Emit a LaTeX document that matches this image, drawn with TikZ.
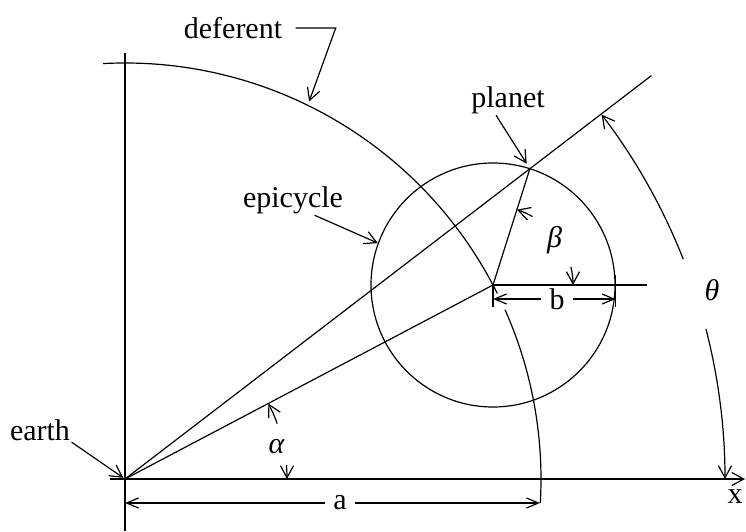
\documentclass[tikz,border=0pt]{standalone}
\usepackage{fontspec}
\setmainfont{Liberation Serif}
\usetikzlibrary{arrows.meta,calc}

\begin{document}
\begin{tikzpicture}[x=1pt, y=1pt, line width=1.2pt,
  lbl/.style={font=\fontsize{30}{34}\selectfont, inner sep=1pt},
  greek/.style={lbl, font=\fontsize{30}{34}\selectfont\itshape},
  dimlbl/.style={lbl, inner sep=8pt},
  tip/.style={-{Straight Barb[length=12pt,width=13pt]}},
  dim/.style={-{Straight Barb[length=12pt,width=10pt]}},
  epi/.style={draw, circle, minimum size=244pt, inner sep=0pt}
]
  \useasboundingbox (0,0) rectangle (746,531);
  \coordinate (earth) at (125,52);
  \coordinate (ytop) at (125,478);
  \coordinate (ybot) at (125,0);
  \coordinate (xleft) at (110,52);
  \coordinate (xend) at (745,52);
  \node[epi] (epicycle) at (493,246) {};
  \coordinate (planet) at ($(epicycle.center)+(72.4:122)$);
  \coordinate (rayend) at ($(earth)!1.3!(planet)$);
  \coordinate (hend) at (647,246);
  \coordinate (deftip) at ($(earth)+(64:420)$);
  \coordinate (aend) at (540,28);

  % axes and deferent
  \draw (ytop) -- (ybot);
  \draw[tip] (xleft) -- (xend);
  \draw ([shift={(93:416)}]earth) arc[start angle=93, end angle=26.5, radius=416];
  \draw ([shift={(24:416)}]earth) arc[start angle=24, end angle=-3.3, radius=416];

  \draw (earth) -- (rayend);
  \draw (earth) -- (epicycle.center);
  \draw (epicycle.center) -- (planet);
  \draw (epicycle.center) -- (hend);

  \node[lbl] (deflbl) at (233,503) {deferent};
  \node[lbl] (epilbl) at (293,331) {epicycle};
  \node[lbl] (planetlbl) at (508,431) {planet};
  \node[lbl] (earthlbl) at (40,101) {earth};
  \node[lbl] (xlbl) at (735,34) {x};

  \draw[tip] ([xshift=12pt]deflbl.east) -- ++(40,0) -- (deftip);
  \draw[tip] ([xshift=-30pt]epilbl.south east) -- (epicycle.160);
  \draw[tip, shorten >=6pt] ([xshift=-12pt]planetlbl.south) -- (planet);
  \draw[tip, shorten >=2pt] (earthlbl.south east) -- (earth);

  % angles
  \node[greek] (alpha) at ($(earth)+(12:155)$) {α};
  \draw[tip] ([shift={(20:162)}]earth) arc[start angle=20, end angle=27.8, radius=162];
  \draw[tip] ([shift={(5:162)}]earth) arc[start angle=5, end angle=0, radius=162];

  \node[greek] (beta) at ($(epicycle.center)+(36:76)$) {β};
  \draw[tip] ([shift={(60:79)}]epicycle.center) arc[start angle=60, end angle=72.4, radius=79];
  \draw[tip] ([shift={(13:80)}]epicycle.center) arc[start angle=13, end angle=0, radius=80];

  \node[greek] (theta) at (712,241) {θ};
  \draw[tip] ([shift={(21.5:600)}]earth) arc[start angle=21.5, end angle=37.4, radius=600];
  \draw[tip] ([shift={(14.5:600)}]earth) arc[start angle=14.5, end angle=0, radius=600];

  % dimensions a and b
  \node[dimlbl] (b) at (557,232) {b};
  \draw (epicycle.center) -- ++(0,-22);
  \draw ([yshift=10pt]epicycle.east) -- ++(0,-32);
  \draw[dim] (b) -- (epicycle.center |- b);
  \draw[dim] (b) -- (epicycle.east |- b);

  \node[dimlbl] (a) at (340,28) {a};
  \draw[dim] (a) -- (earth |- a);
  \draw[dim] (a) -- (aend);
\end{tikzpicture}
\end{document}
